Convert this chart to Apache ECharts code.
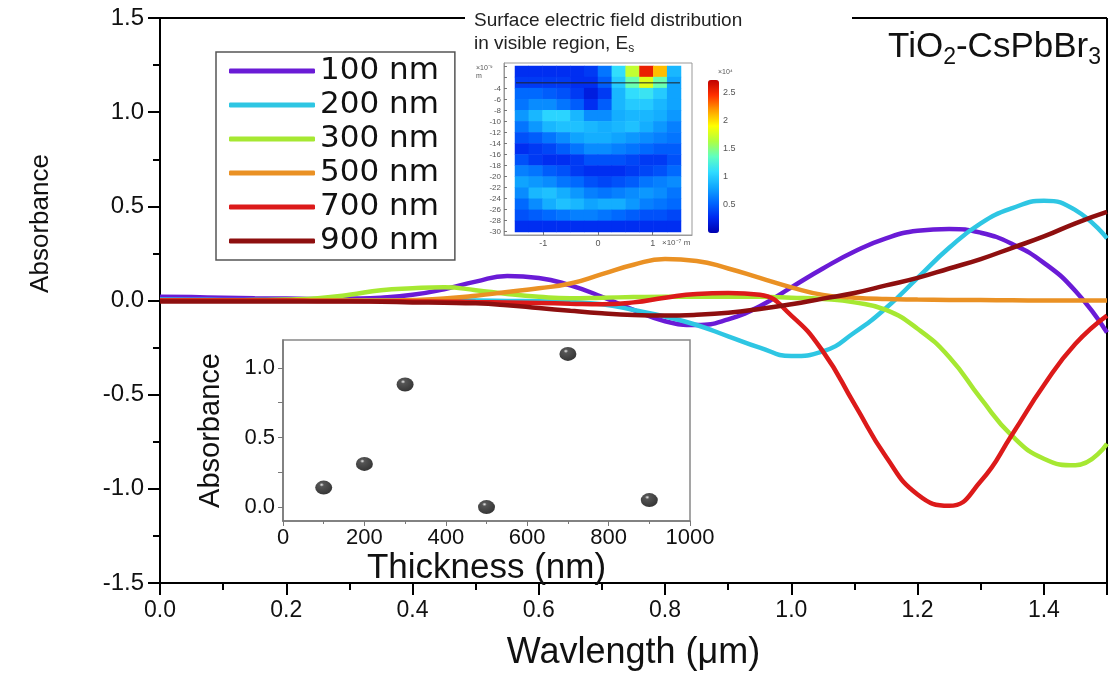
<!DOCTYPE html>
<html>
<head>
<meta charset="utf-8">
<script src="https://cdn.jsdelivr.net/npm/echarts@6/dist/echarts.min.js"></script>
<style>
  html, body { margin: 0; padding: 0; background: #fff; }
  #chart { width: 1109px; height: 676px; }
</style>
</head>
<body>
<div id="chart"></div>
<script>
// main spectra, every 0.05 um
var wavelength = [0, 0.05, 0.1, 0.15, 0.2, 0.25, 0.3, 0.35, 0.4, 0.45, 0.5, 0.55, 0.6, 0.65, 0.7, 0.75,
  0.8, 0.85, 0.9, 0.95, 1.0, 1.05, 1.1, 1.15, 1.2, 1.25, 1.3, 1.35, 1.4, 1.45, 1.5];
var abs100 = [0.02, 0.018, 0.015, 0.012, 0.01, 0.008, 0.01, 0.015, 0.03, 0.06, 0.1, 0.13, 0.12, 0.08, 0.02, -0.05,
  -0.11, -0.13, -0.1, -0.03, 0.07, 0.17, 0.26, 0.33, 0.37, 0.38, 0.36, 0.3, 0.2, 0.05, -0.17];
var abs200 = [0.005, 0.004, 0.003, 0.002, 0.002, 0.001, 0, 0, 0, 0, 0, -0.002, -0.004, -0.008, -0.02, -0.05,
  -0.085, -0.13, -0.19, -0.25, -0.295, -0.27, -0.17, -0.04, 0.12, 0.28, 0.41, 0.49, 0.53, 0.48, 0.33];
var abs300 = [0, 0, 0, 0.002, 0.005, 0.012, 0.03, 0.055, 0.065, 0.07, 0.055, 0.035, 0.02, 0.012, 0.015, 0.018,
  0.02, 0.02, 0.02, 0.02, 0.015, 0.008, -0.01, -0.05, -0.15, -0.3, -0.52, -0.72, -0.84, -0.875, -0.76];
var abs500 = [0, 0, 0, 0, 0, 0, 0, 0, 0.003, 0.01, 0.025, 0.045, 0.065, 0.09, 0.14, 0.19,
  0.22, 0.21, 0.17, 0.12, 0.07, 0.03, 0.015, 0.008, 0.005, 0.003, 0.002, 0.001, 0, 0, 0];
var abs700 = [0, 0, 0, 0, 0, -0.002, -0.003, -0.004, -0.005, -0.006, -0.008, -0.01, -0.013, -0.017, -0.02, -0.01,
  0.015, 0.035, 0.04, 0.03, -0.08, -0.27, -0.55, -0.83, -1.03, -1.09, -0.96, -0.71, -0.45, -0.23, -0.08];
var abs900 = [-0.005, -0.005, -0.005, -0.005, -0.005, -0.005, -0.005, -0.007, -0.01, -0.012, -0.015, -0.025, -0.04, -0.055, -0.068, -0.077,
  -0.08, -0.076, -0.065, -0.045, -0.02, 0.01, 0.04, 0.08, 0.12, 0.17, 0.22, 0.28, 0.34, 0.41, 0.47];

var seriesNames = ['100 nm', '200 nm', '300 nm', '500 nm', '700 nm', '900 nm'];
var seriesColors = ['#6a1bd6', '#2ec6e3', '#a6e832', '#ea9124', '#dc1a1a', '#8e0f0f'];

// inset: absorbance vs thickness
var thickness = [100, 200, 300, 500, 700, 900];
var peakAbsorbance = [0.14, 0.31, 0.88, 0.0, 1.1, 0.05];

// surface field map (x10^4), rows from the top (0 nm) down to -30 nm, 12 columns across -1.5..1.5 x10^-7 m
var fieldCols = ['c1', 'c2', 'c3', 'c4', 'c5', 'c6', 'c7', 'c8', 'c9', 'c10', 'c11', 'c12'];
var fieldRowNames = ['r1', 'r2', 'r3', 'r4', 'r5', 'r6', 'r7', 'r8', 'r9', 'r10', 'r11', 'r12', 'r13', 'r14', 'r15'];
var fieldRows = [
  [0.3, 0.3, 0.3, 0.3, 0.3, 0.35, 0.6, 1.1, 1.7, 2.55, 2.1, 0.9],
  [0.35, 0.35, 0.35, 0.35, 0.3, 0.3, 0.5, 1.0, 1.4, 1.8, 1.4, 0.8],
  [0.55, 0.55, 0.5, 0.45, 0.35, 0.2, 0.35, 0.9, 1.1, 1.15, 1.0, 0.8],
  [0.6, 0.7, 0.7, 0.6, 0.5, 0.3, 0.5, 0.9, 1.0, 1.0, 0.9, 0.8],
  [0.75, 0.9, 1.05, 1.05, 0.9, 0.7, 0.7, 0.85, 0.9, 0.9, 0.85, 0.75],
  [0.6, 0.75, 0.9, 0.95, 0.95, 0.9, 0.85, 0.9, 0.95, 0.85, 0.75, 0.65],
  [0.45, 0.5, 0.6, 0.7, 0.8, 0.85, 0.85, 0.8, 0.75, 0.7, 0.65, 0.6],
  [0.3, 0.35, 0.4, 0.5, 0.6, 0.7, 0.7, 0.65, 0.6, 0.55, 0.5, 0.5],
  [0.45, 0.35, 0.3, 0.3, 0.35, 0.45, 0.45, 0.45, 0.4, 0.35, 0.35, 0.45],
  [0.65, 0.6, 0.5, 0.45, 0.35, 0.3, 0.3, 0.3, 0.35, 0.4, 0.45, 0.55],
  [0.8, 0.75, 0.7, 0.6, 0.55, 0.45, 0.4, 0.45, 0.5, 0.6, 0.65, 0.7],
  [0.7, 0.9, 0.95, 0.85, 0.75, 0.65, 0.6, 0.65, 0.7, 0.75, 0.7, 0.6],
  [0.55, 0.7, 0.85, 0.95, 0.9, 0.8, 0.85, 0.85, 0.75, 0.65, 0.6, 0.55],
  [0.45, 0.5, 0.55, 0.6, 0.65, 0.65, 0.6, 0.55, 0.5, 0.45, 0.45, 0.4],
  [0.3, 0.3, 0.3, 0.3, 0.3, 0.3, 0.3, 0.3, 0.3, 0.3, 0.3, 0.3]
];
var interfaceLine = [[-1.5, -3], [1.5, -3]];
var fieldXTicks = [-1, 0, 1];
var fieldDepthLabels = [-30, -28, -26, -24, -22, -20, -18, -16, -14, -12, -10, -8, -6, -4];
var fieldDepthTicks = [-30, -28, -26, -24, -22, -20, -18, -16, -14, -12, -10, -8, -6, -4, -2, 0];
var colorbarLabels = [0.5, 1, 1.5, 2, 2.5];
var insetAbsTicks = [0, 0.5, 1.0];
var insetAbsMinor = [0, 0.25, 0.5, 0.75, 1.0];

var jet = ['#0000b0', '#0028f0', '#0068ff', '#10a8ff', '#30dcff', '#60ffc0', '#b0ff40', '#ffff00', '#ffa000', '#ff3000', '#c00000'];

var FONT = "'Liberation Sans', Arial, sans-serif";

var myChart = echarts.init(document.getElementById('chart'));

var allAbs = [abs100, abs200, abs300, abs500, abs700, abs900];
var lineSeries = [];
for (var i = 0; i < allAbs.length; i++) {
  var pts = [];
  for (var k = 0; k < wavelength.length; k++) {
    pts.push([wavelength[k], allAbs[i][k]]);
  }
  lineSeries.push({
    name: seriesNames[i],
    type: 'line',
    xAxisIndex: 0,
    yAxisIndex: 0,
    smooth: 0.5,
    showSymbol: false,
    symbol: 'none',
    z: 3,
    lineStyle: { color: seriesColors[i], width: 4.5 },
    itemStyle: { color: seriesColors[i] },
    data: pts
  });
}

var heatData = [];
for (var r = 0; r < fieldRows.length; r++) {
  for (var c = 0; c < fieldCols.length; c++) {
    heatData.push([c, r, fieldRows[r][c]]);
  }
}

var ball = new echarts.graphic.RadialGradient(0.38, 0.3, 0.75, [
  { offset: 0, color: '#e8e8e8' },
  { offset: 0.18, color: '#2a2a2a' },
  { offset: 1, color: '#000' }
]);

var option = {
  animation: false,
  backgroundColor: '#fff',
  grid: [
    { left: 160, top: 18, width: 947, height: 568 },
    { left: 515, top: 66, width: 166, height: 166 },
    { left: 504, top: 63, width: 188, height: 172, show: true, borderColor: '#999', borderWidth: 1 },
    { left: 708, top: 80, width: 11, height: 153 },
    { left: 283, top: 340, width: 407, height: 181, show: true, backgroundColor: '#fff', borderColor: '#888', borderWidth: 1.5 }
  ],
  legend: {
    data: seriesNames,
    orient: 'vertical',
    left: 216,
    top: 52,
    icon: 'roundRect',
    itemWidth: 86,
    itemHeight: 5,
    itemGap: 0,
    padding: [2, 16, 2, 13],
    borderColor: '#555',
    borderWidth: 1.5,
    backgroundColor: '#fff',
    textStyle: { fontFamily: "'DejaVu Sans', sans-serif", fontSize: 31, lineHeight: 34, color: '#111' }
  },
  visualMap: {
    type: 'continuous',
    seriesIndex: 6,
    min: 0,
    max: 2.73,
    calculable: false,
    hoverLink: false,
    left: 708,
    top: 80,
    padding: 0,
    itemWidth: 11,
    itemHeight: 153,
    text: null,
    showLabel: false,
    inRange: { color: jet }
  },
  xAxis: [
    {
      gridIndex: 0, type: 'value', min: 0, max: 1.5, interval: 0.2,
      axisLine: { onZero: false, lineStyle: { color: '#000', width: 2 } },
      axisTick: { length: 12, lineStyle: { color: '#000', width: 2 } },
      minorTick: { show: true, splitNumber: 2, length: 7, lineStyle: { color: '#000', width: 2 } },
      splitLine: { show: false },
      axisLabel: { fontFamily: FONT, fontSize: 23, color: '#111', margin: 16, showMaxLabel: false,
        formatter: function (v) { return v.toFixed(1); } },
      name: 'Wavlength (\u03bcm)', nameLocation: 'middle', nameGap: 52,
      nameTextStyle: { fontFamily: FONT, fontSize: 36, color: '#111' }
    },
    { gridIndex: 1, type: 'category', data: fieldCols, show: false },
    {
      gridIndex: 2, type: 'value', min: -1.72, max: 1.72,
      axisLine: { onZero: false, lineStyle: { color: '#999', width: 1 } },
      axisTick: { inside: true, length: 3, customValues: fieldXTicks, lineStyle: { color: '#777' } },
      axisLabel: { customValues: fieldXTicks, fontSize: 9, color: '#555', margin: 4, fontFamily: FONT },
      splitLine: { show: false }
    },
    { gridIndex: 3, type: 'value', min: 0, max: 1, show: false },
    {
      gridIndex: 4, type: 'value', min: 0, max: 1000, interval: 200,
      axisLine: { onZero: false, lineStyle: { color: '#777', width: 1.5 } },
      axisTick: { length: 5, lineStyle: { color: '#777' } },
      minorTick: { show: true, splitNumber: 2, length: 3, lineStyle: { color: '#777' } },
      splitLine: { show: false },
      axisLabel: { fontFamily: FONT, fontSize: 22, color: '#111', margin: 6,
        formatter: function (v) { return String(v); } },
      name: 'Thickness (nm)', nameLocation: 'middle', nameGap: 30,
      nameTextStyle: { fontFamily: FONT, fontSize: 35, color: '#111' }
    }
  ],
  yAxis: [
    {
      gridIndex: 0, type: 'value', min: -1.5, max: 1.5, interval: 0.5,
      axisLine: { onZero: false, lineStyle: { color: '#000', width: 2 } },
      axisTick: { length: 12, lineStyle: { color: '#000', width: 2 } },
      minorTick: { show: true, splitNumber: 2, length: 7, lineStyle: { color: '#000', width: 2 } },
      splitLine: { show: false },
      axisLabel: { fontFamily: FONT, fontSize: 24, color: '#111', margin: 16, formatter: function (v) { return v.toFixed(1); } },
      name: 'Absorbance', nameLocation: 'middle', nameGap: 106,
      nameTextStyle: { fontFamily: FONT, fontSize: 26, color: '#111', padding: [0, 0, 0, 154] }
    },
    { gridIndex: 1, type: 'category', data: fieldRowNames, inverse: true, show: false },
    {
      gridIndex: 2, type: 'value', min: -30.6, max: 0.6,
      axisLine: { onZero: false, lineStyle: { color: '#999', width: 1 } },
      axisTick: { inside: true, length: 3, customValues: fieldDepthTicks, lineStyle: { color: '#777' } },
      axisLabel: { customValues: fieldDepthLabels, fontSize: 8, color: '#555', margin: 3, fontFamily: FONT },
      splitLine: { show: false }
    },
    {
      gridIndex: 3, type: 'value', min: 0, max: 2.73, position: 'right',
      axisLine: { show: false },
      axisTick: { show: false },
      axisLabel: { customValues: colorbarLabels, fontSize: 9, color: '#555', margin: 4, fontFamily: FONT },
      splitLine: { show: false }
    },
    {
      gridIndex: 4, type: 'value', min: -0.1, max: 1.2,
      axisLine: { onZero: false, lineStyle: { color: '#777', width: 1.5 } },
      axisTick: { length: 5, customValues: insetAbsMinor, lineStyle: { color: '#777' } },
      axisLabel: { customValues: insetAbsTicks, fontFamily: FONT, fontSize: 22, color: '#111', margin: 8,
        formatter: function (v) { return v.toFixed(1); } },
      splitLine: { show: false },
      name: 'Absorbance', nameLocation: 'middle', nameGap: 58,
      nameTextStyle: { fontFamily: FONT, fontSize: 29, color: '#111' }
    }
  ],
  series: lineSeries.concat([
    {
      name: 'field',
      type: 'heatmap',
      xAxisIndex: 1,
      yAxisIndex: 1,
      data: heatData,
      emphasis: { disabled: true }
    },
    {
      name: 'interface',
      type: 'line',
      xAxisIndex: 2,
      yAxisIndex: 2,
      symbol: 'none',
      z: 5,
      lineStyle: { color: '#222', width: 1 },
      data: interfaceLine
    },
    {
      name: 'thickness',
      type: 'scatter',
      xAxisIndex: 4,
      yAxisIndex: 4,
      symbol: 'circle',
      symbolSize: [17, 14],
      itemStyle: { color: ball },
      data: thickness.map(function (t, j) { return [t, peakAbsorbance[j]]; })
    }
  ]),
  graphic: [
    // top and right frame of the main plot; the top edge is broken by the field inset
    { type: 'line', shape: { x1: 160, y1: 18, x2: 465, y2: 18 }, style: { stroke: '#000', lineWidth: 2 } },
    { type: 'line', shape: { x1: 852, y1: 18, x2: 1107, y2: 18 }, style: { stroke: '#000', lineWidth: 2 } },
    { type: 'line', shape: { x1: 1107, y1: 18, x2: 1107, y2: 586 }, style: { stroke: '#000', lineWidth: 2 } },
    {
      type: 'text', right: 8, top: 30,
      style: {
        text: '{n|TiO}{s|2}{n|-CsPbBr}{s|3}',
        fill: '#111',
        rich: {
          n: { fontFamily: FONT, fontSize: 35, lineHeight: 44, verticalAlign: 'middle' },
          s: { fontFamily: FONT, fontSize: 23, lineHeight: 44, verticalAlign: 'bottom' }
        }
      }
    },
    {
      type: 'text', left: 474, top: 11,
      style: {
        text: '{n|Surface electric field distribution}\n{n|in visible region, E}{s|s}',
        fill: '#222',
        rich: {
          n: { fontFamily: FONT, fontSize: 19, lineHeight: 23 },
          s: { fontFamily: FONT, fontSize: 12, lineHeight: 23, verticalAlign: 'bottom' }
        }
      }
    },
    { type: 'text', left: 476, top: 64, style: { text: '\u00d710\u207b\u2079\nm', fontSize: 7, lineHeight: 8, fill: '#555', fontFamily: FONT } },
    { type: 'text', left: 662, top: 239, style: { text: '\u00d710\u207b\u2077 m', fontSize: 8, fill: '#555', fontFamily: FONT } },
    { type: 'text', left: 718, top: 69, style: { text: '\u00d710\u2074', fontSize: 7, fill: '#555', fontFamily: FONT } }
  ]
};

myChart.setOption(option);
</script>
</body>
</html>
